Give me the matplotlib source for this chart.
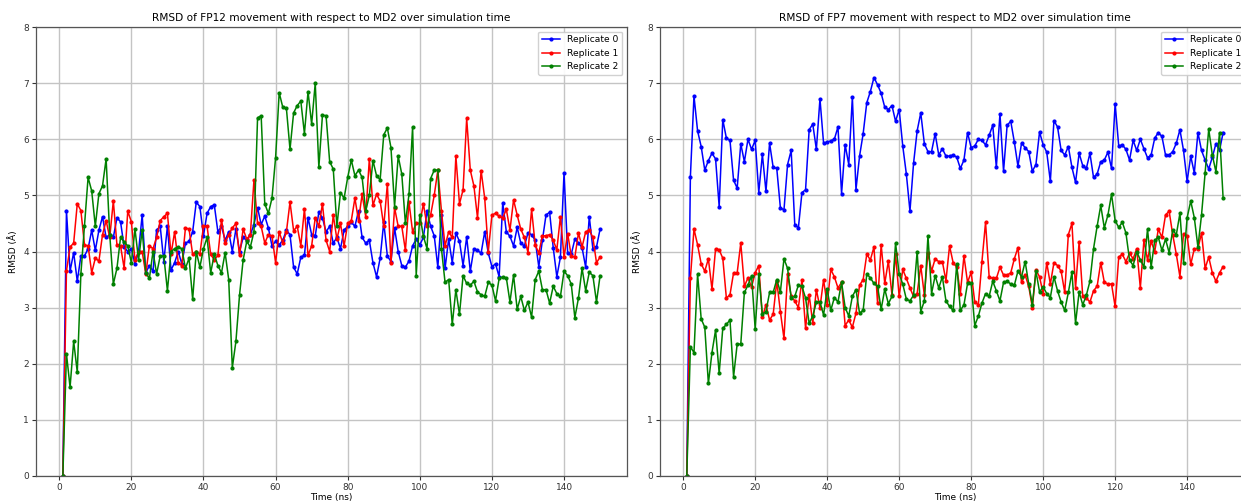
import matplotlib
matplotlib.use('Agg')
import matplotlib.pyplot as plt
import numpy as np

# Plot settings
CONFIG = {
    'figure_size': (12.41, 5.03),
    'dpi': 100,
    'x_label': 'Time (ns)',
    'y_label': 'RMSD (Å)',
    'font_config': {
        'font.family': 'DejaVu Sans',
        'font.size': 6.5,
        'axes.titlesize': 7.6,
        'axes.labelsize': 6.5,
        'xtick.labelsize': 6.5,
        'ytick.labelsize': 6.5,
        'legend.fontsize': 6.6,
    }
}

COLORS = ['blue', 'red', 'green']
LABELS = ['Replicate 0', 'Replicate 1', 'Replicate 2']

# RMSD per frame (1 ns steps), FP12 vs MD2
fp12_rep0 = [
    0.00, 4.73, 3.65, 3.98, 3.47, 3.92, 3.92, 4.05, 4.38, 4.02,
    4.38, 4.62, 4.25, 4.30, 4.25, 4.60, 4.53, 4.08, 4.00, 4.05,
    3.78, 4.00, 4.65, 3.62, 3.75, 3.65, 4.38, 4.45, 3.82, 4.45,
    3.67, 3.80, 4.00, 3.78, 4.15, 4.18, 4.35, 4.88, 4.80, 4.28,
    4.68, 4.80, 4.83, 4.35, 4.45, 4.20, 4.35, 4.00, 4.40, 4.00,
    4.25, 4.20, 4.30, 4.48, 4.78, 4.48, 4.63, 4.42, 4.10, 4.18,
    4.12, 4.20, 4.38, 4.30, 3.72, 3.60, 3.90, 3.93, 4.60, 4.30,
    4.28, 4.70, 4.60, 4.35, 4.45, 4.15, 4.25, 4.05, 4.38, 4.45,
    4.52, 4.45, 4.72, 4.25, 4.15, 4.20, 3.80, 3.55, 3.88, 4.52,
    3.92, 3.82, 4.42, 4.00, 3.75, 3.72, 3.83, 4.10, 4.22, 4.12,
    4.25, 4.72, 4.45, 4.28, 3.72, 4.65, 3.70, 4.22, 3.80, 4.33,
    4.18, 3.75, 4.26, 3.65, 4.05, 4.02, 3.97, 4.35, 3.97, 3.73,
    3.78, 3.55, 4.87, 4.35, 4.27, 4.10, 4.43, 4.15, 4.10, 4.33,
    4.30, 4.20, 3.73, 4.20, 4.65, 4.70, 4.07, 3.55, 3.90, 5.40,
    3.97, 3.95, 4.22, 4.15, 4.07, 3.72, 4.62, 4.05, 4.08, 4.40,
]
fp12_rep1 = [
    0.00, 3.65, 4.08, 4.15, 4.85, 4.73, 4.12, 4.10, 3.62, 3.88,
    3.83, 4.30, 4.55, 4.25, 4.90, 4.12, 4.10, 3.70, 4.72, 4.53,
    3.85, 4.00, 4.00, 3.60, 4.10, 4.05, 4.25, 4.55, 4.62, 4.68,
    3.95, 4.35, 3.80, 3.75, 4.42, 4.40, 3.95, 4.00, 3.95, 4.45,
    4.45, 3.95, 3.85, 3.93, 4.57, 4.15, 4.30, 4.42, 4.50, 3.93,
    4.40, 4.22, 4.30, 5.27, 4.50, 4.45, 4.15, 4.30, 4.28, 3.80,
    4.35, 4.15, 4.35, 4.88, 4.37, 4.45, 4.10, 4.76, 3.93, 4.10,
    4.60, 4.45, 4.85, 4.20, 4.00, 4.65, 4.22, 4.50, 4.10, 4.50,
    4.55, 4.95, 4.55, 5.02, 4.62, 5.65, 4.82, 5.02, 4.90, 4.45,
    5.20, 3.80, 4.78, 4.45, 4.45, 4.02, 4.88, 4.35, 4.50, 4.50,
    4.85, 4.45, 4.65, 5.00, 5.45, 4.72, 4.10, 4.35, 4.25, 5.70,
    4.85, 5.10, 6.37, 5.45, 5.17, 4.60, 5.44, 4.95, 4.00, 4.65,
    4.68, 4.63, 4.60, 4.75, 4.38, 4.92, 4.65, 4.40, 4.25, 3.98,
    4.75, 4.12, 3.97, 4.28, 4.28, 4.30, 4.20, 4.03, 4.62, 3.90,
    4.32, 3.92, 3.90, 4.33, 4.08, 4.35, 4.38, 4.25, 3.80, 3.90,
]
fp12_rep2 = [
    0.00, 2.18, 1.58, 2.40, 1.85, 3.60, 4.45, 5.32, 5.08, 4.45,
    5.03, 5.17, 5.65, 4.30, 3.42, 3.70, 4.25, 4.17, 4.10, 3.80,
    4.40, 3.85, 4.38, 3.62, 3.52, 4.00, 3.60, 3.92, 3.92, 3.30,
    4.00, 4.05, 4.08, 4.05, 3.70, 3.88, 3.15, 4.00, 3.72, 4.05,
    4.25, 3.62, 3.95, 3.75, 3.62, 3.98, 3.50, 1.93, 2.40, 3.22,
    3.85, 4.18, 4.08, 4.35, 6.38, 6.42, 4.85, 4.68, 4.95, 5.67,
    6.83, 6.57, 6.55, 5.82, 6.47, 6.60, 6.68, 6.10, 6.85, 6.27,
    7.00, 5.50, 6.43, 6.42, 5.60, 5.47, 4.45, 5.05, 4.95, 5.32,
    5.63, 5.35, 5.45, 5.32, 4.72, 5.00, 5.62, 5.35, 5.28, 6.08,
    6.20, 5.85, 4.80, 5.70, 5.38, 4.50, 5.02, 6.22, 3.57, 4.65,
    4.27, 4.05, 5.30, 5.45, 5.45, 4.05, 3.45, 3.50, 2.70, 3.32,
    2.88, 3.57, 3.43, 3.40, 3.47, 3.28, 3.23, 3.20, 3.45, 3.40,
    3.12, 3.52, 3.55, 3.53, 3.10, 3.58, 2.97, 3.20, 2.95, 3.10,
    2.83, 3.50, 3.65, 3.32, 3.32, 3.08, 3.38, 3.25, 3.20, 3.65,
    3.57, 3.42, 2.82, 3.17, 3.70, 3.30, 3.63, 3.57, 3.10, 3.57,
]

# RMSD per frame (1 ns steps), FP7 vs MD2
fp7_rep0 = [
    0.00, 5.33, 6.77, 6.15, 5.87, 5.45, 5.62, 5.75, 5.65, 4.80,
    6.35, 6.02, 5.98, 5.27, 5.13, 5.92, 5.60, 6.00, 5.82, 5.98,
    5.05, 5.73, 5.07, 5.93, 5.50, 5.48, 4.78, 4.74, 5.55, 5.80,
    4.48, 4.42, 5.05, 5.10, 6.17, 6.27, 5.82, 6.72, 5.93, 5.95,
    5.97, 6.00, 6.22, 5.03, 5.90, 5.55, 6.75, 5.10, 5.70, 6.10,
    6.65, 6.85, 7.10, 6.97, 6.82, 6.57, 6.53, 6.60, 6.32, 6.53,
    5.88, 5.38, 4.72, 5.57, 6.15, 6.47, 5.92, 5.78, 5.78, 6.10,
    5.72, 5.83, 5.70, 5.70, 5.72, 5.68, 5.48, 5.63, 6.12, 5.85,
    5.88, 6.00, 5.98, 5.90, 6.07, 6.25, 5.50, 6.45, 5.43, 6.25,
    6.32, 5.95, 5.52, 5.93, 5.85, 5.78, 5.43, 5.55, 6.13, 5.90,
    5.77, 5.25, 6.33, 6.22, 5.80, 5.72, 5.87, 5.50, 5.23, 5.75,
    5.53, 5.48, 5.75, 5.32, 5.38, 5.60, 5.63, 5.77, 5.48, 6.63,
    5.88, 5.90, 5.82, 5.63, 5.98, 5.80, 6.00, 5.83, 5.67, 5.72,
    6.02, 6.12, 6.05, 5.72, 5.72, 5.78, 5.93, 6.17, 5.80, 5.25,
    5.70, 5.40, 6.12, 5.80, 5.63, 5.47, 5.68, 5.92, 5.80, 6.12,
]
fp7_rep1 = [
    0.00, 3.52, 4.40, 4.12, 3.78, 3.65, 3.87, 3.33, 4.05, 4.03,
    3.88, 3.17, 3.23, 3.62, 3.62, 4.15, 3.38, 3.53, 3.37, 3.62,
    3.75, 2.83, 3.05, 2.78, 2.88, 3.47, 2.93, 2.45, 3.60, 3.20,
    3.12, 3.00, 3.50, 2.63, 3.23, 2.72, 3.32, 3.00, 3.50, 3.05,
    3.68, 3.55, 3.35, 3.45, 2.68, 2.78, 2.65, 2.90, 3.40, 3.50,
    3.95, 3.85, 4.08, 3.08, 4.12, 3.43, 3.83, 3.23, 3.95, 3.20,
    3.68, 3.52, 3.35, 3.20, 3.25, 3.75, 3.22, 3.98, 3.65, 3.87,
    3.82, 3.82, 3.48, 4.10, 3.80, 3.72, 3.25, 3.92, 3.45, 3.63,
    3.10, 3.05, 3.82, 4.52, 3.55, 3.52, 3.52, 3.72, 3.58, 3.58,
    3.62, 3.87, 4.07, 3.45, 3.58, 3.38, 3.00, 3.67, 3.55, 3.25,
    3.80, 3.42, 3.80, 3.75, 3.65, 3.27, 4.30, 4.50, 3.35, 4.17,
    3.20, 3.17, 3.10, 3.30, 3.38, 3.80, 3.45, 3.42, 3.42, 3.02,
    3.90, 3.95, 3.82, 3.97, 3.87, 4.05, 3.35, 4.20, 3.85, 4.18,
    4.00, 4.40, 4.25, 4.65, 4.72, 4.30, 3.95, 3.55, 4.32, 4.28,
    3.77, 4.05, 4.05, 4.33, 3.70, 3.90, 3.62, 3.47, 3.62, 3.73,
]
fp7_rep2 = [
    0.00, 2.30, 2.20, 3.60, 2.80, 2.65, 1.65, 2.20, 2.60, 1.83,
    2.63, 2.70, 2.78, 1.77, 2.35, 2.35, 3.27, 3.40, 3.57, 2.62,
    3.60, 2.88, 2.93, 3.27, 3.27, 3.50, 3.28, 3.87, 3.70, 3.18,
    3.20, 3.40, 3.38, 3.17, 2.72, 2.85, 3.10, 3.10, 2.87, 3.33,
    2.95, 3.18, 3.10, 3.45, 3.00, 2.85, 3.20, 3.32, 2.90, 2.95,
    3.60, 3.53, 3.43, 3.38, 2.97, 3.33, 3.07, 3.20, 4.15, 3.60,
    3.42, 3.15, 3.12, 3.22, 4.00, 2.93, 3.12, 4.28, 3.25, 3.57,
    3.35, 3.55, 3.12, 3.02, 2.95, 3.78, 2.95, 3.05, 3.43, 3.43,
    2.68, 2.85, 3.08, 3.25, 3.20, 3.47, 3.30, 3.12, 3.45, 3.47,
    3.42, 3.40, 3.65, 3.55, 3.82, 3.42, 3.05, 3.65, 3.28, 3.37,
    3.25, 3.18, 3.55, 3.30, 3.10, 2.95, 3.27, 3.63, 2.72, 3.28,
    3.05, 3.22, 3.47, 4.05, 4.45, 4.82, 4.42, 4.65, 5.02, 4.55,
    4.43, 4.52, 4.33, 3.85, 3.75, 4.00, 3.85, 3.73, 4.40, 3.72,
    4.20, 4.25, 4.02, 4.22, 3.98, 4.38, 4.30, 4.68, 3.80, 4.60,
    4.90, 4.60, 4.08, 4.65, 5.40, 6.18, 5.72, 5.42, 6.12, 4.95,
]

PANELS = [
    ('RMSD of FP12 movement with respect to MD2 over simulation time',
     [fp12_rep0, fp12_rep1, fp12_rep2]),
    ('RMSD of FP7 movement with respect to MD2 over simulation time',
     [fp7_rep0, fp7_rep1, fp7_rep2]),
]

# axes rectangles in figure fractions (right panel runs past the edge)
AXES_RECTS = [
    [0.0290, 0.0537, 0.4762, 0.8926],
    [0.5318, 0.0537, 0.4754, 0.8926],
]


def draw_panel(ax, title, series):
    for vals, color, label in zip(series, COLORS, LABELS):
        t = np.arange(1, len(vals) + 1)
        ax.plot(t, vals, color=color, marker='o', markersize=2.0,
                linewidth=1.1, label=label)
    ax.set_title(title, pad=4)
    ax.set_xlabel(CONFIG['x_label'], labelpad=1)
    ax.set_ylabel(CONFIG['y_label'], labelpad=4)
    ax.set_ylim(0, 8)
    ax.set_xticks(np.arange(0, 141, 20))
    ax.grid(True, color='#c4c4c4', linewidth=1.0)
    ax.set_axisbelow(True)
    ax.tick_params(length=3, pad=2, colors='#333333')
    for sp in ax.spines.values():
        sp.set_color('#555555')
        sp.set_linewidth(0.9)
    ax.legend(loc='upper right', framealpha=0.9, borderaxespad=0.5)


def main():
    plt.rcParams.update(CONFIG['font_config'])
    fig = plt.figure(figsize=CONFIG['figure_size'], dpi=CONFIG['dpi'])
    for rect, (title, series) in zip(AXES_RECTS, PANELS):
        ax = fig.add_axes(rect)
        draw_panel(ax, title, series)
    fig.savefig('out.png', dpi=CONFIG['dpi'], facecolor='white')
    plt.close(fig)


if __name__ == "__main__":
    main()
